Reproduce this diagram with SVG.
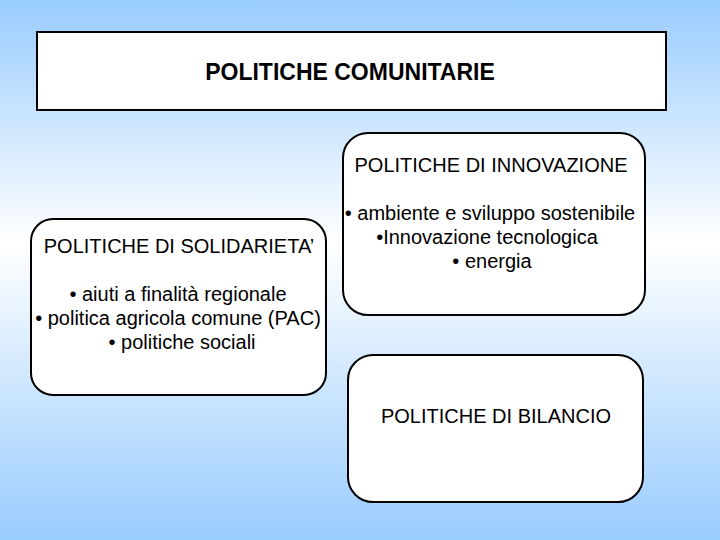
<svg xmlns="http://www.w3.org/2000/svg" width="720" height="540" viewBox="0 0 720 540">
  <defs>
    <linearGradient id="bg" x1="0" y1="0" x2="0" y2="1">
      <stop offset="0" stop-color="#99CCFF"/>
      <stop offset="0.45" stop-color="#FFFFFF"/>
      <stop offset="1" stop-color="#99CCFF"/>
    </linearGradient>
    <style>
      .box { fill: #FFFFFF; stroke: #000000; stroke-width: 2; }
      .t { font-family: "Liberation Sans", Arial, sans-serif; font-size: 20px; fill: #000000; text-anchor: middle; }
      .title { font-family: "Liberation Sans", Arial, sans-serif; font-size: 23px; font-weight: bold; fill: #000000; text-anchor: middle; }
    </style>
  </defs>
  <rect x="0" y="0" width="720" height="540" fill="url(#bg)"/>

  <g id="politiche-comunitarie">
    <rect class="box" x="37" y="32" width="629" height="78"/>
    <text class="title" x="350" y="80">POLITICHE COMUNITARIE</text>
  </g>

  <g id="politiche-innovazione">
    <rect class="box" x="343" y="133" width="302" height="182" rx="25" ry="25"/>
    <text class="t" x="491" y="172">POLITICHE DI INNOVAZIONE</text>
    <text class="t" x="490" y="220">• ambiente e sviluppo sostenibile</text>
    <text class="t" x="487" y="244">•Innovazione tecnologica</text>
    <text class="t" x="492" y="268">• energia</text>
  </g>

  <g id="politiche-solidarieta">
    <rect class="box" x="31" y="219" width="295" height="176" rx="22" ry="22"/>
    <text class="t" x="179" y="253">POLITICHE DI SOLIDARIETA’</text>
    <text class="t" x="178" y="301">• aiuti a finalità regionale</text>
    <text class="t" x="178" y="325">• politica agricola comune (PAC)</text>
    <text class="t" x="182" y="349">• politiche sociali</text>
  </g>

  <g id="politiche-bilancio">
    <rect class="box" x="348" y="355" width="295" height="147" rx="25" ry="25"/>
    <text class="t" x="496" y="423">POLITICHE DI BILANCIO</text>
  </g>

  <g id="connectors"></g>
</svg>
